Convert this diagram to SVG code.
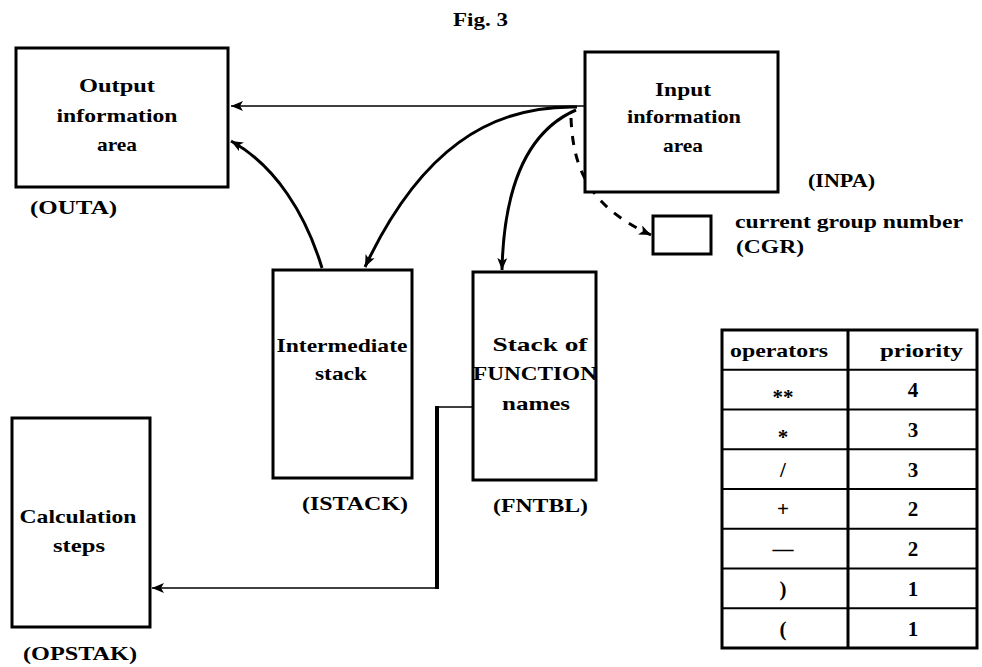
<svg xmlns="http://www.w3.org/2000/svg" width="982" height="667" viewBox="0 0 982 667">
<defs>
<style>
.box{fill:#fff;stroke:#000;stroke-width:3}
.t{font-family:"Liberation Serif","DejaVu Serif",serif;font-weight:bold;font-size:19px;fill:#000}
.s{font-size:21px}
.m{text-anchor:middle}
.c{fill:none;stroke:#000}
.thin{stroke-width:1.5}
.thick{stroke-width:3}
.grid{stroke:#000;stroke-width:2}
</style>
<marker id="arr" markerUnits="userSpaceOnUse" markerWidth="14" markerHeight="12" refX="12" refY="5" orient="auto" viewBox="0 0 14 12">
<path d="M0,0 L12,5 L0,10 L3,5 z" fill="#000"/>
</marker>
</defs>
<rect width="982" height="667" fill="#fff"/>
<text class="t" x="453" y="26" textLength="55" lengthAdjust="spacingAndGlyphs">Fig. 3</text>

<g id="connectors">
<path class="c thin" d="M585,106 H231" marker-end="url(#arr)"/>
<path class="c thick" d="M322,268 C306,215 276,166 231,141" marker-end="url(#arr)"/>
<path class="c thick" d="M577,107 C490,105 420,150 365,267" marker-end="url(#arr)"/>
<path class="c thick" d="M576,110 C530,130 504,180 502,270" marker-end="url(#arr)"/>
<path class="c thick" d="M571,118 C573,165 586,205 651,235" stroke-dasharray="9,9" marker-end="url(#arr)"/>
<path class="c thin" d="M473,407 H437"/>
<path class="c" stroke-width="4" d="M437,406 V589"/>
<path class="c thin" d="M437,588 H152" marker-end="url(#arr)"/>
</g>

<g id="outa">
<rect class="box" x="16" y="48" width="212" height="139"/>
<text class="t m" x="117" y="92" textLength="76" lengthAdjust="spacingAndGlyphs">Output</text>
<text class="t m" x="117" y="122" textLength="121" lengthAdjust="spacingAndGlyphs">information</text>
<text class="t m" x="117" y="151" textLength="40" lengthAdjust="spacingAndGlyphs">area</text>
<text class="t" x="30" y="214" textLength="87" lengthAdjust="spacingAndGlyphs">(OUTA)</text>
</g>

<g id="inpa">
<rect class="box" x="585" y="52" width="193" height="140"/>
<text class="t m" x="683" y="96" textLength="56" lengthAdjust="spacingAndGlyphs">Input</text>
<text class="t m" x="684" y="123" textLength="114" lengthAdjust="spacingAndGlyphs">information</text>
<text class="t m" x="683" y="152" textLength="40" lengthAdjust="spacingAndGlyphs">area</text>
<text class="t" x="808" y="187" textLength="67" lengthAdjust="spacingAndGlyphs">(INPA)</text>
</g>

<g id="cgr">
<rect class="box" x="653" y="216" width="58" height="38"/>
<text class="t" x="735" y="228" textLength="228" lengthAdjust="spacingAndGlyphs">current group number</text>
<text class="t" x="736" y="253" textLength="68" lengthAdjust="spacingAndGlyphs">(CGR)</text>
</g>

<g id="istack">
<rect class="box" x="273" y="270" width="139" height="208"/>
<text class="t m" x="342" y="352" textLength="131" lengthAdjust="spacingAndGlyphs">Intermediate</text>
<text class="t m" x="341" y="380" textLength="52" lengthAdjust="spacingAndGlyphs">stack</text>
<text class="t" x="302" y="510" textLength="106" lengthAdjust="spacingAndGlyphs">(ISTACK)</text>
</g>

<g id="fntbl">
<rect class="box" x="473" y="272" width="123" height="208"/>
<text class="t m" x="540" y="351" textLength="95" lengthAdjust="spacingAndGlyphs">Stack of</text>
<text class="t m" x="535" y="380" textLength="124" lengthAdjust="spacingAndGlyphs">FUNCTION</text>
<text class="t m" x="536" y="410" textLength="68" lengthAdjust="spacingAndGlyphs">names</text>
<text class="t" x="493" y="512" textLength="95" lengthAdjust="spacingAndGlyphs">(FNTBL)</text>
</g>

<g id="opstak">
<rect class="box" x="12" y="418" width="138" height="209"/>
<text class="t m" x="78" y="523" textLength="117" lengthAdjust="spacingAndGlyphs">Calculation</text>
<text class="t m" x="79" y="552" textLength="52" lengthAdjust="spacingAndGlyphs">steps</text>
<text class="t" x="23" y="660" textLength="114" lengthAdjust="spacingAndGlyphs">(OPSTAK)</text>
</g>

<g id="priority-table">
<rect x="722" y="330" width="255" height="318" fill="#fff" stroke="#000" stroke-width="3"/>
<line class="grid" x1="722" y1="369.75" x2="977" y2="369.75"/>
<line class="grid" x1="722" y1="409.5" x2="977" y2="409.5"/>
<line class="grid" x1="722" y1="449.25" x2="977" y2="449.25"/>
<line class="grid" x1="722" y1="489" x2="977" y2="489"/>
<line class="grid" x1="722" y1="528.75" x2="977" y2="528.75"/>
<line class="grid" x1="722" y1="568.5" x2="977" y2="568.5"/>
<line class="grid" x1="722" y1="608.25" x2="977" y2="608.25"/>
<line x1="848" y1="330" x2="848" y2="648" stroke="#000" stroke-width="3"/>
<text class="t" x="730" y="357" textLength="98" lengthAdjust="spacingAndGlyphs">operators</text>
<text class="t" x="880" y="357" textLength="83" lengthAdjust="spacingAndGlyphs">priority</text>
<text class="t s m" x="783" y="404">**</text>
<text class="t s m" x="913" y="397">4</text>
<text class="t s m" x="783" y="444">*</text>
<text class="t s m" x="913" y="437">3</text>
<text class="t s m" x="783" y="477">/</text>
<text class="t s m" x="913" y="477">3</text>
<text class="t s m" x="783" y="516">+</text>
<text class="t s m" x="913" y="516">2</text>
<text class="t s m" x="783" y="556">—</text>
<text class="t s m" x="913" y="556">2</text>
<text class="t s m" x="783" y="596">)</text>
<text class="t s m" x="913" y="596">1</text>
<text class="t s m" x="783" y="636">(</text>
<text class="t s m" x="913" y="636">1</text>
</g>
</svg>
